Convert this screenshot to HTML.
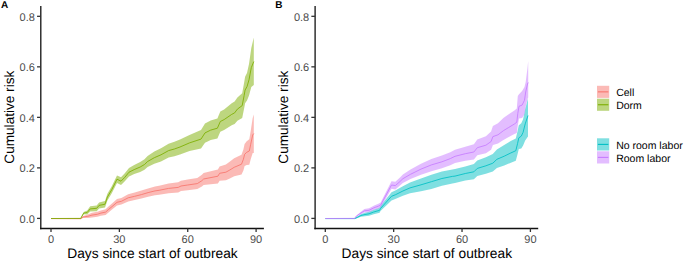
<!DOCTYPE html>
<html><head><meta charset="utf-8"><style>
html,body{margin:0;padding:0;background:#fff;width:685px;height:262px;overflow:hidden}
svg{display:block}
text{font-family:"Liberation Sans",sans-serif;text-rendering:geometricPrecision}
.tk{font-size:11px;fill:#4D4D4D}
.ti{font-size:13.75px;fill:#000}
.lg{font-size:10.5px;fill:#000}
.lab{font-size:10px;font-weight:bold;fill:#000}
</style></head><body>
<svg width="685" height="262" viewBox="0 0 685 262">
<rect width="685" height="262" fill="#fff"/>
<polygon points="51.0,218.6 80.7,218.3 83.1,216.1 87.8,214.5 92.0,212.8 97.3,211.8 100.9,210.5 105.6,209.3 108.5,206.6 112.0,203.6 117.0,199.1 121.4,198.0 128.2,194.2 134.7,192.5 141.4,190.6 148.1,188.4 155.0,186.5 159.1,185.8 168.6,183.6 178.2,182.3 181.0,180.8 187.7,179.6 197.3,177.9 201.9,174.7 203.6,173.0 217.9,169.4 219.6,166.4 225.9,164.5 229.3,162.1 234.2,158.3 241.5,154.7 243.4,149.4 244.6,144.1 246.7,141.3 249.3,139.2 250.7,131.0 252.7,118.0 253.8,114.5 253.8,153.0 252.7,152.9 250.7,159.3 249.3,164.7 246.7,164.9 244.6,166.0 243.4,170.4 241.5,174.6 234.2,176.3 229.3,178.8 225.9,180.3 219.6,180.8 217.9,183.5 203.6,185.1 201.9,186.6 197.3,189.1 187.7,190.3 181.0,191.1 178.2,192.4 168.6,193.2 159.1,194.8 155.0,195.3 148.1,196.8 141.4,198.6 134.7,200.1 128.2,201.4 121.4,204.6 117.0,205.5 112.0,209.6 108.5,212.4 105.6,214.9 100.9,215.7 97.3,216.8 92.0,217.4 87.8,218.1 83.1,217.9 80.7,219.1 51.0,218.6" fill="#F8766D" fill-opacity="0.5"/>
<polygon points="51.0,218.5 80.7,217.9 83.7,211.9 87.2,210.5 90.2,206.2 96.7,205.4 99.1,202.4 105.0,200.9 107.4,193.8 111.9,185.9 117.0,175.5 121.0,177.3 124.8,173.3 129.0,167.9 134.2,165.1 140.2,162.0 144.5,159.2 147.6,156.0 154.3,151.6 161.0,148.2 168.6,143.7 174.4,141.8 180.0,139.5 189.5,134.9 201.0,130.1 205.0,123.6 210.7,120.6 217.4,118.4 220.3,111.6 224.1,109.4 231.7,103.3 234.6,101.5 237.4,97.4 242.2,93.2 244.1,82.8 245.1,76.8 247.0,73.0 249.0,64.1 251.3,47.9 253.8,37.5 253.8,85.0 251.3,87.0 249.0,95.4 247.0,100.4 245.1,103.2 244.1,108.6 242.2,118.0 237.4,120.7 234.6,124.0 231.7,125.3 224.1,130.0 220.3,131.8 217.4,138.4 210.7,140.1 205.0,142.7 201.0,148.4 189.5,150.9 180.0,154.5 174.4,156.2 168.6,157.5 161.0,161.4 154.3,163.8 147.6,167.0 144.5,169.8 140.2,172.0 134.2,174.1 129.0,176.4 124.8,181.3 121.0,185.0 117.0,182.9 111.9,192.9 107.4,200.4 105.0,207.4 99.1,208.4 96.7,211.2 90.2,211.6 87.2,214.5 83.7,214.3 80.7,218.9 51.0,218.5" fill="#7CAE00" fill-opacity="0.5"/>
<polyline points="51.0,218.6 80.7,218.7 83.1,217.0 87.8,216.3 92.0,215.1 97.3,214.3 100.9,213.1 105.6,212.1 108.5,209.5 112.0,206.6 117.0,202.3 121.4,201.3 128.2,197.8 134.7,196.3 141.4,194.6 148.1,192.6 155.0,190.9 159.1,190.3 168.6,188.4 178.2,187.4 181.0,186.0 187.7,185.0 197.3,183.6 201.9,180.7 203.6,179.0 217.9,176.2 219.6,173.3 225.9,172.2 229.3,170.3 234.2,167.3 241.5,164.2 243.4,159.3 244.6,154.4 246.7,152.3 249.3,151.0 250.7,144.3 252.7,135.0 253.8,133.5" fill="none" stroke="#F8766D" stroke-width="1.0" stroke-opacity="0.85" stroke-linejoin="round"/>
<polyline points="51.0,218.5 80.7,218.4 83.7,213.1 87.2,212.5 90.2,208.9 96.7,208.3 99.1,205.4 105.0,204.2 107.4,197.1 111.9,189.4 117.0,179.2 121.0,181.2 124.8,177.3 129.0,172.2 134.2,169.6 140.2,167.0 144.5,164.5 147.6,161.5 154.3,157.7 161.0,154.8 168.6,150.6 174.4,149.0 180.0,147.0 189.5,142.9 201.0,139.1 205.0,132.9 210.7,130.1 217.4,128.2 220.3,121.5 224.1,119.6 231.7,114.4 234.6,112.9 237.4,109.1 242.2,105.6 244.1,95.7 245.1,90.0 247.0,86.7 249.0,79.8 251.3,67.6 253.8,61.5" fill="none" stroke="#7CAE00" stroke-width="1.0" stroke-opacity="0.85" stroke-linejoin="round"/>
<line x1="40.80" y1="5.9" x2="40.80" y2="229.25" stroke="#111" stroke-width="1.3"/>
<line x1="40.05" y1="228.5" x2="263.90" y2="228.5" stroke="#111" stroke-width="1.3"/>
<line x1="37.05" y1="218.40" x2="40.80" y2="218.40" stroke="#333" stroke-width="1.3"/>
<text x="34.90" y="222.80" text-anchor="end" class="tk">0.0</text>
<line x1="37.05" y1="167.88" x2="40.80" y2="167.88" stroke="#333" stroke-width="1.3"/>
<text x="34.90" y="172.28" text-anchor="end" class="tk">0.2</text>
<line x1="37.05" y1="117.36" x2="40.80" y2="117.36" stroke="#333" stroke-width="1.3"/>
<text x="34.90" y="121.76" text-anchor="end" class="tk">0.4</text>
<line x1="37.05" y1="66.84" x2="40.80" y2="66.84" stroke="#333" stroke-width="1.3"/>
<text x="34.90" y="71.24" text-anchor="end" class="tk">0.6</text>
<line x1="37.05" y1="16.32" x2="40.80" y2="16.32" stroke="#333" stroke-width="1.3"/>
<text x="34.90" y="20.72" text-anchor="end" class="tk">0.8</text>
<line x1="51.00" y1="228.5" x2="51.00" y2="232.0" stroke="#333" stroke-width="1.3"/>
<text x="51.00" y="242.9" text-anchor="middle" class="tk">0</text>
<line x1="119.37" y1="228.5" x2="119.37" y2="232.0" stroke="#333" stroke-width="1.3"/>
<text x="119.37" y="242.9" text-anchor="middle" class="tk">30</text>
<line x1="187.73" y1="228.5" x2="187.73" y2="232.0" stroke="#333" stroke-width="1.3"/>
<text x="187.73" y="242.9" text-anchor="middle" class="tk">60</text>
<line x1="256.10" y1="228.5" x2="256.10" y2="232.0" stroke="#333" stroke-width="1.3"/>
<text x="256.10" y="242.9" text-anchor="middle" class="tk">90</text>
<text x="152.5" y="258.2" text-anchor="middle" class="ti">Days since start of outbreak</text>
<text transform="translate(13.6,117.2) rotate(-90)" x="0" y="0" text-anchor="middle" class="ti" style="font-size:13.6px">Cumulative risk</text>
<text x="0.9" y="8.1" class="lab">A</text>
<polygon points="325.3,218.6 354.6,218.2 357.0,216.8 360.9,214.3 365.0,212.7 369.0,211.8 373.7,209.8 379.6,207.8 380.5,205.9 391.5,192.2 395.3,190.5 402.9,186.3 410.0,182.6 421.0,178.6 431.4,174.7 441.9,171.5 452.4,169.4 455.0,169.1 465.3,166.5 473.9,164.1 477.3,160.5 485.9,157.2 492.8,153.9 496.9,149.4 504.2,144.9 510.3,141.3 515.8,138.4 517.6,130.9 518.8,125.3 521.3,123.3 523.1,119.2 525.2,109.1 528.0,98.5 528.0,136.5 525.2,140.4 523.1,145.5 521.3,148.4 518.8,149.1 517.6,154.1 515.8,160.7 510.3,162.9 504.2,165.6 496.9,168.0 492.8,171.6 485.9,173.8 477.3,176.0 473.9,179.2 465.3,180.5 455.0,183.1 452.4,183.4 441.9,185.7 431.4,189.0 421.0,191.3 410.0,193.3 402.9,195.8 395.3,199.1 391.5,200.4 380.5,211.1 379.6,212.8 373.7,214.2 369.0,215.8 365.0,216.3 360.9,216.7 357.0,218.2 354.6,219.0 325.3,218.6" fill="#00BFC4" fill-opacity="0.5"/>
<polygon points="325.3,218.5 354.6,218.0 356.5,215.4 359.7,212.7 364.4,209.1 369.0,208.3 373.7,205.7 378.4,203.8 380.7,202.4 391.5,181.2 395.3,181.7 400.0,177.5 402.9,174.5 410.5,169.6 421.0,163.7 431.4,158.9 441.9,155.6 450.3,152.2 455.0,149.8 465.3,146.7 473.9,144.2 477.3,139.6 485.9,136.2 491.1,131.4 492.9,126.1 498.0,123.2 503.4,118.0 508.3,114.5 514.4,110.6 516.8,108.4 517.8,96.0 519.0,94.3 522.1,91.0 524.5,87.0 525.7,82.0 527.5,68.0 528.2,61.0 528.2,97.5 527.5,98.9 525.7,106.5 524.5,114.2 522.1,118.1 519.0,118.5 517.8,125.2 516.8,133.0 514.4,133.9 508.3,137.3 503.4,140.0 498.0,143.6 492.9,145.0 491.1,149.8 485.9,153.2 477.3,155.3 473.9,159.4 465.3,160.7 455.0,163.1 450.3,165.3 441.9,168.3 431.4,171.2 421.0,174.7 410.5,179.1 402.9,182.9 400.0,185.5 395.3,189.5 391.5,188.8 380.7,207.6 378.4,208.6 373.7,210.1 369.0,212.3 364.4,212.5 359.7,214.9 356.5,216.6 354.6,218.8 325.3,218.5" fill="#C77CFF" fill-opacity="0.5"/>
<polyline points="325.3,218.6 354.6,218.6 357.0,217.5 360.9,215.5 365.0,214.5 369.0,213.8 373.7,212.0 379.6,210.3 380.5,208.5 391.5,196.3 395.3,194.8 402.9,191.0 410.0,187.9 421.0,184.8 431.4,181.7 441.9,178.5 452.4,176.4 455.0,176.1 465.3,173.5 473.9,171.8 477.3,168.4 485.9,165.8 492.8,163.2 496.9,159.3 504.2,156.2 510.3,153.2 515.8,150.7 517.6,143.4 518.8,137.9 521.3,136.1 523.1,132.3 525.2,123.9 528.0,115.5" fill="none" stroke="#00BFC4" stroke-width="1.0" stroke-opacity="0.85" stroke-linejoin="round"/>
<polyline points="325.3,218.5 354.6,218.4 356.5,216.0 359.7,213.8 364.4,210.8 369.0,210.3 373.7,207.9 378.4,206.2 380.7,205.0 391.5,185.0 395.3,185.6 400.0,181.5 402.9,178.7 410.5,174.3 421.0,169.1 431.4,164.9 441.9,161.8 450.3,158.6 455.0,156.3 465.3,153.7 473.9,152.0 477.3,147.7 485.9,145.2 491.1,141.5 492.9,136.6 498.0,134.8 503.4,130.7 508.3,127.7 514.4,124.0 516.8,122.2 517.8,113.4 519.0,106.3 522.1,105.1 524.5,100.2 525.7,92.0 527.5,84.0 528.2,82.5" fill="none" stroke="#C77CFF" stroke-width="1.0" stroke-opacity="0.85" stroke-linejoin="round"/>
<line x1="315.10" y1="5.9" x2="315.10" y2="229.25" stroke="#111" stroke-width="1.3"/>
<line x1="314.35" y1="228.5" x2="538.20" y2="228.5" stroke="#111" stroke-width="1.3"/>
<line x1="311.35" y1="218.40" x2="315.10" y2="218.40" stroke="#333" stroke-width="1.3"/>
<text x="309.20" y="222.80" text-anchor="end" class="tk">0.0</text>
<line x1="311.35" y1="167.88" x2="315.10" y2="167.88" stroke="#333" stroke-width="1.3"/>
<text x="309.20" y="172.28" text-anchor="end" class="tk">0.2</text>
<line x1="311.35" y1="117.36" x2="315.10" y2="117.36" stroke="#333" stroke-width="1.3"/>
<text x="309.20" y="121.76" text-anchor="end" class="tk">0.4</text>
<line x1="311.35" y1="66.84" x2="315.10" y2="66.84" stroke="#333" stroke-width="1.3"/>
<text x="309.20" y="71.24" text-anchor="end" class="tk">0.6</text>
<line x1="311.35" y1="16.32" x2="315.10" y2="16.32" stroke="#333" stroke-width="1.3"/>
<text x="309.20" y="20.72" text-anchor="end" class="tk">0.8</text>
<line x1="325.30" y1="228.5" x2="325.30" y2="232.0" stroke="#333" stroke-width="1.3"/>
<text x="325.30" y="242.9" text-anchor="middle" class="tk">0</text>
<line x1="393.67" y1="228.5" x2="393.67" y2="232.0" stroke="#333" stroke-width="1.3"/>
<text x="393.67" y="242.9" text-anchor="middle" class="tk">30</text>
<line x1="462.03" y1="228.5" x2="462.03" y2="232.0" stroke="#333" stroke-width="1.3"/>
<text x="462.03" y="242.9" text-anchor="middle" class="tk">60</text>
<line x1="530.40" y1="228.5" x2="530.40" y2="232.0" stroke="#333" stroke-width="1.3"/>
<text x="530.40" y="242.9" text-anchor="middle" class="tk">90</text>
<text x="426.8" y="258.2" text-anchor="middle" class="ti">Days since start of outbreak</text>
<text transform="translate(287.90000000000003,117.2) rotate(-90)" x="0" y="0" text-anchor="middle" class="ti" style="font-size:13.6px">Cumulative risk</text>
<text x="275.2" y="8.1" class="lab">B</text>
<rect x="597.0" y="85.80" width="12.2" height="12.10" fill="#F8766D" fill-opacity="0.5"/>
<line x1="597.9" y1="91.85" x2="608.4" y2="91.85" stroke="#F8766D" stroke-width="1.1"/>
<text x="616.2" y="95.90" class="lg">Cell</text>
<rect x="597.0" y="98.70" width="12.2" height="12.10" fill="#7CAE00" fill-opacity="0.5"/>
<line x1="597.9" y1="104.75" x2="608.4" y2="104.75" stroke="#7CAE00" stroke-width="1.1"/>
<text x="616.2" y="108.80" class="lg">Dorm</text>
<rect x="597.0" y="138.30" width="12.2" height="12.20" fill="#00BFC4" fill-opacity="0.5"/>
<line x1="597.9" y1="144.40" x2="608.4" y2="144.40" stroke="#00BFC4" stroke-width="1.1"/>
<text x="616.2" y="148.80" class="lg">No room labor</text>
<rect x="597.0" y="151.30" width="12.2" height="12.20" fill="#C77CFF" fill-opacity="0.5"/>
<line x1="597.9" y1="157.40" x2="608.4" y2="157.40" stroke="#C77CFF" stroke-width="1.1"/>
<text x="616.2" y="161.80" class="lg">Room labor</text>
</svg>
</body></html>
